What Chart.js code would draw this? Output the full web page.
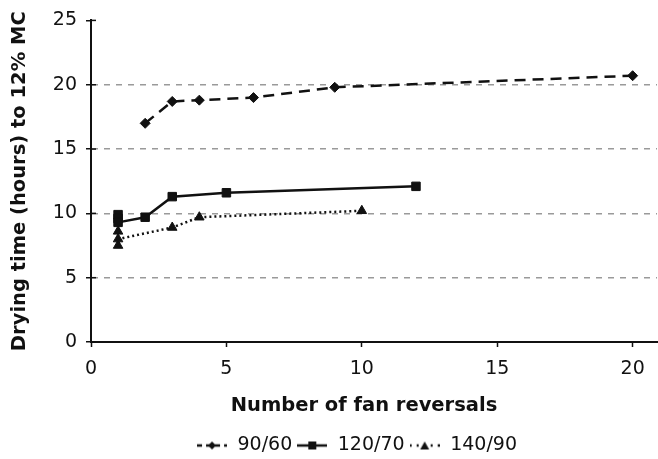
<!DOCTYPE html>
<html>
<head>
<meta charset="utf-8">
<script src="https://cdn.jsdelivr.net/npm/chart.js@4/dist/chart.umd.min.js"></script>
<style>
  html, body { margin: 0; padding: 0; background: #fff; }
  #wrap { width: 658px; height: 459px; position: relative; }
</style>
</head>
<body>
<div id="wrap"><canvas id="c" width="658" height="459"></canvas></div>
<script>
// ---- data ----
const seriesNames = ['90/60', '120/70', '140/90'];
const x_90_60  = [2, 3, 4, 6, 9, 20];
const y_90_60  = [17.0, 18.7, 18.8, 19.0, 19.8, 20.7];
const x_120_70 = [1, 1, 1, 2, 3, 5, 12];
const y_120_70 = [9.9, 9.6, 9.3, 9.7, 11.3, 11.6, 12.1];
const x_140_90 = [1, 1, 1, 3, 4, 10];
const y_140_90 = [8.6, 7.5, 8.0, 8.9, 9.7, 10.2];
const xTicks = [0, 5, 10, 15, 20];
const yTicks = [0, 5, 10, 15, 20, 25];
const xTitle = 'Number of fan reversals';
const yTitle = 'Drying time (hours) to 12% MC';

const pts = (xs, ys) => xs.map((x, i) => ({ x: x, y: ys[i] }));

const INK = '#111';
const dashes = [[11, 7], [], [2, 3]];
const markers = ['rectRot', 'rect', 'triangle'];
const markerSize = [5, 6, 5.5];

function legendSymbol(i) {
  const cv = document.createElement('canvas');
  cv.width = 30; cv.height = 12;
  const g = cv.getContext('2d');
  g.strokeStyle = INK; g.fillStyle = INK; g.lineWidth = 2.5;
  g.setLineDash(i === 0 ? [5, 4] : (i === 2 ? [2, 5] : []));
  g.beginPath(); g.moveTo(0, 6); g.lineTo(30, 6); g.stroke();
  g.setLineDash([]);
  g.beginPath();
  if (i === 0) { g.moveTo(15, 2); g.lineTo(19, 6); g.lineTo(15, 10); g.lineTo(11, 6); g.closePath(); }
  else if (i === 1) { g.rect(11, 2, 8, 8); }
  else { g.moveTo(15, 2); g.lineTo(19.5, 10); g.lineTo(10.5, 10); g.closePath(); }
  g.fill();
  return cv;
}

const innerTicks = {
  id: 'innerTicks',
  afterDatasetsDraw(chart) {
    const ys = chart.scales.y, ctx = chart.ctx;
    ctx.save();
    ctx.strokeStyle = INK; ctx.lineWidth = 1.5;
    yTicks.forEach(v => {
      const py = ys.getPixelForValue(v);
      ctx.beginPath(); ctx.moveTo(ys.right, py); ctx.lineTo(ys.right + 5, py); ctx.stroke();
    });
    ctx.restore();
  }
};

const data = {
  datasets: [
    { label: seriesNames[0], data: pts(x_90_60, y_90_60) },
    { label: seriesNames[1], data: pts(x_120_70, y_120_70) },
    { label: seriesNames[2], data: pts(x_140_90, y_140_90) }
  ].map((d, i) => Object.assign(d, {
    borderColor: INK, backgroundColor: INK, borderWidth: 2.5,
    borderDash: dashes[i], pointStyle: markers[i], pointRadius: markerSize[i],
    pointBorderWidth: 1, pointBorderColor: INK, pointBackgroundColor: INK,
    tension: 0, fill: false, clip: false
  }))
};

const chart = new Chart(document.getElementById('c'), {
  type: 'line',
  data: data,
  plugins: [innerTicks],
  options: {
    responsive: false, animation: false, devicePixelRatio: 1,
    layout: { autoPadding: false, padding: { top: 20, right: 1, left: 0, bottom: -6 } },
    plugins: {
      tooltip: { enabled: false },
      legend: {
        position: 'bottom',
        labels: {
          usePointStyle: true, pointStyleWidth: 32, padding: 4,
          color: INK, font: { family: 'DejaVu Sans', size: 19 },
          generateLabels: (chart) => chart.data.datasets.map((d, i) => ({
            text: d.label, pointStyle: legendSymbol(i), datasetIndex: i,
            fillStyle: INK, strokeStyle: INK, lineWidth: 0, hidden: false, fontColor: INK
          }))
        }
      }
    },
    scales: {
      x: {
        type: 'linear', min: 0, max: 20.9,
        afterFit: s => { s.height = 90; s.paddingRight = 0; s.paddingLeft = 0; },
        afterBuildTicks: s => { s.ticks = xTicks.map(v => ({ value: v })); },
        ticks: { color: INK, padding: 11, font: { family: 'DejaVu Sans', size: 19 }, maxRotation: 0 },
        grid: { drawOnChartArea: false, tickLength: 5, tickColor: INK, tickWidth: 1.5 },
        border: { color: INK, width: 2 },
        title: { display: true, text: xTitle, color: INK, padding: { top: 0, bottom: 14 },
                 font: { family: 'DejaVu Sans', size: 19.5, weight: 'bold' } }
      },
      y: {
        type: 'linear', min: 0, max: 25,
        afterFit: s => { s.width = 91; },
        afterBuildTicks: s => { s.ticks = yTicks.map(v => ({ value: v })); },
        ticks: { color: INK, padding: 9, font: { family: 'DejaVu Sans', size: 19 } },
        grid: {
          tickLength: 5, tickColor: INK, tickWidth: 1.5,
          color: c => (c.tick && (c.tick.value === 0 || c.tick.value === 25)) ? 'rgba(0,0,0,0)' : '#9a9a9a',
          lineWidth: 1.5
        },
        border: { color: INK, width: 2, dash: [6, 6] },
        title: { display: true, text: yTitle, color: INK, padding: { top: 8, bottom: 0 },
                 font: { family: 'DejaVu Sans', size: 19.5, weight: 'bold' } }
      }
    }
  }
});

// shift legend and x title to the reference's horizontal positions
function shiftDraw(obj, method, dx) {
  const orig = obj[method].bind(obj);
  obj[method] = function () {
    const ctx = chart.ctx;
    ctx.save();
    ctx.translate(dx, 0);
    orig.apply(null, arguments);
    ctx.restore();
  };
}
shiftDraw(chart.legend, 'draw', 28);
shiftDraw(chart.scales.x, 'drawTitle', -10);
chart.draw();
</script>
</body>
</html>
